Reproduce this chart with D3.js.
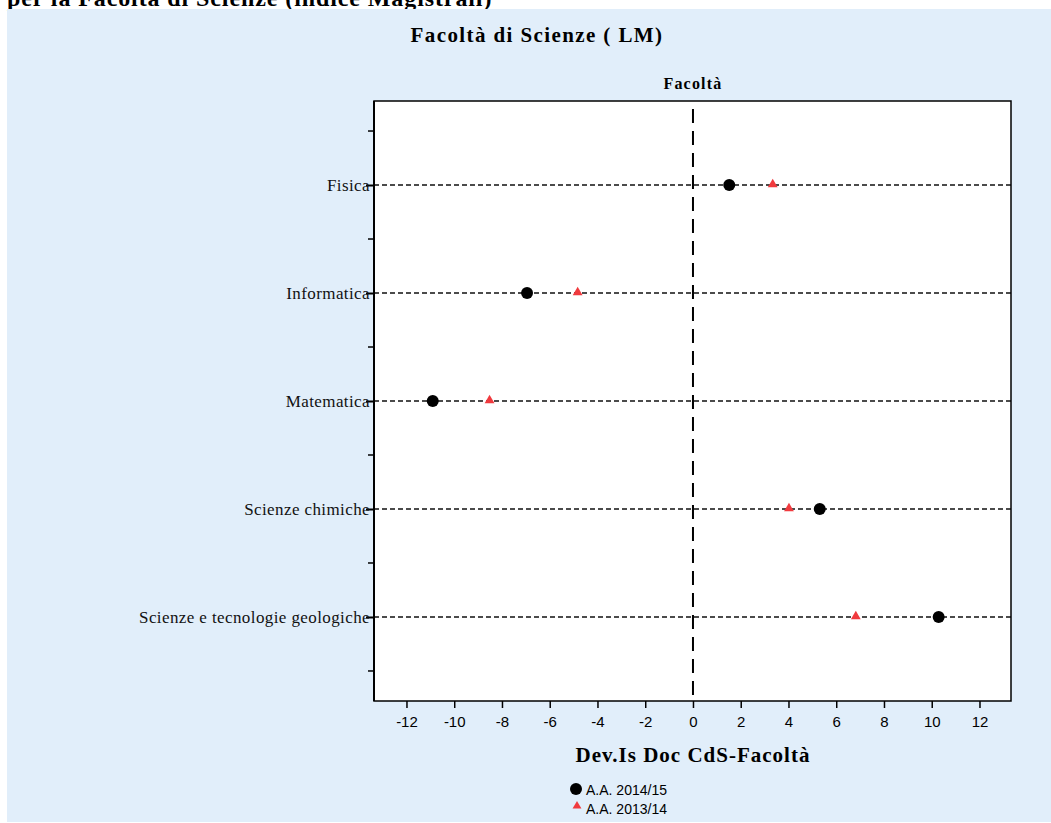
<!DOCTYPE html>
<html>
<head>
<meta charset="utf-8">
<script src="https://cdn.jsdelivr.net/npm/d3@7"></script>
<style>
  html, body { margin: 0; padding: 0; background: #ffffff; }
  svg { display: block; }
</style>
</head>
<body>
<svg id="chart" width="1051" height="823"></svg>
<script>
// ---- data ----
const categories = ["Fisica", "Informatica", "Matematica", "Scienze chimiche", "Scienze e tecnologie geologiche"];
const series2014 = [1.52, -6.95, -10.90, 5.31, 10.29];   // A.A. 2014/15 (black circles)
const series2013 = [3.34, -4.83, -8.52, 4.02, 6.82];     // A.A. 2013/14 (red triangles)
const xTicks = [-12, -10, -8, -6, -4, -2, 0, 2, 4, 6, 8, 10, 12];
const legendLabels = ["A.A. 2014/15", "A.A. 2013/14"];
const pageHeading = "per la Facoltà di Scienze (indice Magistrali)";
const chartTitle = "Facoltà di Scienze ( LM)";
const stripLabel = "Facoltà";
const xTitle = "Dev.Is Doc CdS-Facoltà";

// ---- layout ----
const svg = d3.select("#chart");
const pL = 374, pR = 1011, pT = 101, pB = 701;
const serif = "'Liberation Serif', 'Times New Roman', serif";
const sans = "'Liberation Sans', Arial, sans-serif";

// page heading (cut off at top, as in the reference)
svg.append("text").attr("x", 7).attr("y", 6)
  .attr("font-family", serif).attr("font-weight", "bold").attr("font-size", 24)
  .attr("letter-spacing", 0.9)
  .attr("fill", "#000").text(pageHeading);

// blue panel
svg.append("rect").attr("x", 7).attr("y", 9).attr("width", 1044).attr("height", 813)
  .attr("fill", "#e1eefa");

// scales
const x = d3.scaleLinear().domain([-13.36, 13.32]).range([pL, pR]);
const y = d3.scaleLinear().domain([0.222, 5.778]).range([pT, pB]);
const idx = categories.map((c, i) => i + 1);

// titles
svg.append("text").attr("x", 537).attr("y", 42).attr("text-anchor", "middle")
  .attr("font-family", serif).attr("font-weight", "bold").attr("font-size", 21)
  .attr("letter-spacing", 1.4)
  .text(chartTitle);
svg.append("text").attr("x", x(0)).attr("y", 89).attr("text-anchor", "middle")
  .attr("font-family", serif).attr("font-weight", "bold").attr("font-size", 16)
  .attr("letter-spacing", 1.2)
  .text(stripLabel);

// plot area
svg.append("rect").attr("x", pL).attr("y", pT).attr("width", pR - pL).attr("height", pB - pT)
  .attr("fill", "#ffffff");

// horizontal dashed reference lines
svg.append("g").selectAll("line").data(idx).join("line")
  .attr("x1", pL).attr("x2", pR)
  .attr("y1", d => y(d)).attr("y2", d => y(d))
  .attr("stroke", "#111").attr("stroke-width", 1.4).attr("stroke-dasharray", "5,3");

// vertical zero line
svg.append("line").attr("x1", x(0)).attr("x2", x(0)).attr("y1", pT + 8).attr("y2", pB)
  .attr("stroke", "#000").attr("stroke-width", 2).attr("stroke-dasharray", "14,8");

// frame
svg.append("rect").attr("x", pL).attr("y", pT).attr("width", pR - pL).attr("height", pB - pT)
  .attr("fill", "none").attr("stroke", "#000").attr("stroke-width", 1.5);

// y axis
const yAxis = d3.axisLeft(y).tickValues(idx).tickSize(8).tickFormat(d => categories[d - 1]);
const yg = svg.append("g").attr("transform", `translate(${pL},0)`).call(yAxis);
yg.select(".domain").remove();
yg.selectAll(".tick line").attr("stroke", "#000").attr("stroke-width", 2);
yg.selectAll(".tick text").attr("font-family", serif).attr("font-size", 17).attr("fill", "#111")
  .attr("letter-spacing", 0.4)
  .attr("dx", 7).attr("dy", "0.3em");
const minor = [0.5, 1.5, 2.5, 3.5, 4.5, 5.5];
svg.append("g").selectAll("line").data(minor).join("line")
  .attr("x1", pL - 6).attr("x2", pL).attr("y1", d => y(d)).attr("y2", d => y(d))
  .attr("stroke", "#000").attr("stroke-width", 1.5);
svg.append("line").attr("x1", pL).attr("x2", pL).attr("y1", pT).attr("y2", pB)
  .attr("stroke", "#000").attr("stroke-width", 2);

// x axis
const xAxis = d3.axisBottom(x).tickValues(xTicks).tickSize(7).tickPadding(8)
  .tickFormat(d => String(d));
const xg = svg.append("g").attr("transform", `translate(0,${pB})`).call(xAxis);
xg.select(".domain").remove();
xg.selectAll(".tick line").attr("stroke", "#000").attr("stroke-width", 1.5);
xg.selectAll(".tick text").attr("font-family", sans).attr("font-size", 15).attr("fill", "#000");

svg.append("text").attr("x", x(0)).attr("y", 762).attr("text-anchor", "middle")
  .attr("font-family", serif).attr("font-weight", "bold").attr("font-size", 21)
  .attr("letter-spacing", 1)
  .text(xTitle);

// points
svg.append("g").selectAll("circle").data(series2014).join("circle")
  .attr("cx", d => x(d)).attr("cy", (d, i) => y(i + 1)).attr("r", 6).attr("fill", "#000");
const tri = d3.symbol().type(d3.symbolTriangle).size(42);
svg.append("g").selectAll("path").data(series2013).join("path")
  .attr("d", tri).attr("transform", (d, i) => `translate(${x(d)},${y(i + 1) - 0.5})`)
  .attr("fill", "#f03a3e");

// legend
const lg = svg.append("g");
lg.append("circle").attr("cx", 576).attr("cy", 789).attr("r", 6).attr("fill", "#000");
lg.append("path").attr("d", d3.symbol().type(d3.symbolTriangle).size(34)())
  .attr("transform", "translate(577,806)").attr("fill", "#f03a3e");
lg.selectAll("text").data(legendLabels).join("text")
  .attr("x", 586).attr("y", (d, i) => 795 + i * 19)
  .attr("font-family", sans).attr("font-size", 14).attr("fill", "#000").text(d => d);
</script>
</body>
</html>
